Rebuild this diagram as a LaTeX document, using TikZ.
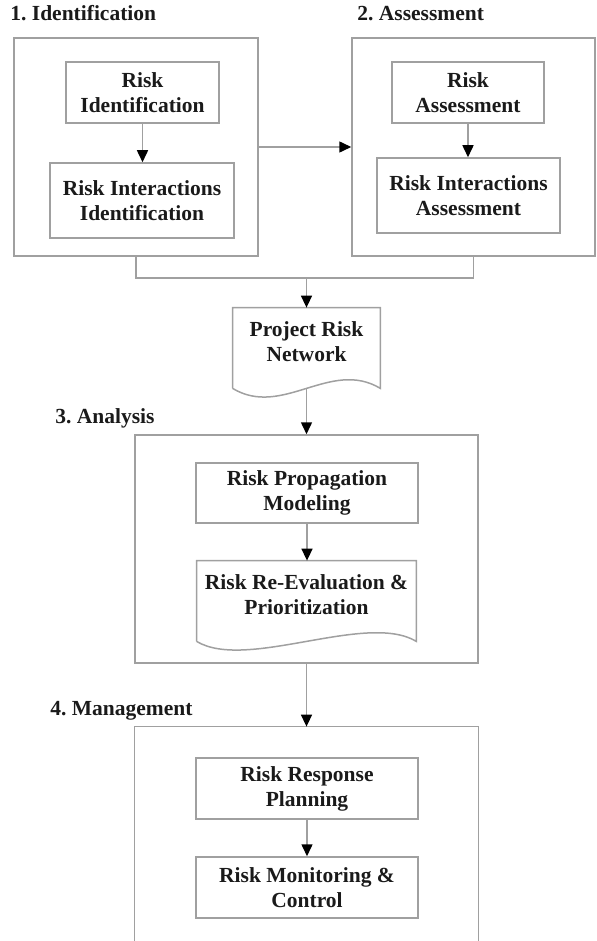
\documentclass[tikz,border=0pt]{standalone}
\usepackage{fontspec}
\setmainfont{Liberation Serif}
\usetikzlibrary{arrows.meta}

\definecolor{linegray}{HTML}{A0A0A0}
\definecolor{inkblack}{HTML}{1A1A1A}

\tikzset{
  frame/.style={draw=linegray, line width=0.75pt},
  txt/.style={text=inkblack, font=\bfseries\fontsize{10.75}{12.5}\selectfont\frenchspacing},
  stepbox/.style={frame, txt, align=center, inner sep=0pt},
  docbox/.style={txt, align=center, inner sep=0pt},
  stagebox/.style={frame, inner sep=0pt},
  link/.style={draw=linegray, line width=0.75pt},
  flow/.style={link, -{Triangle[length=6pt,width=5.5pt,color=black,fill=black]}}
}

% document outline with a wavy bottom
\newcommand{\docoutline}[1]{%
  \draw[frame] ([yshift=-6pt]#1.south west) -- (#1.north west)
    -- (#1.north east) -- ([yshift=-6pt]#1.south east)
    .. controls +(-50,-30) and +(50,30) .. ([yshift=-6pt]#1.south west);}

\begin{document}
\begin{tikzpicture}[x=0.5pt,y=-0.5pt]
  \useasboundingbox (0,0) rectangle (596,941);

  % stage titles
  \foreach \x/\y/\n/\t in {10/21/t1/1. Identification, 357/21/t2/2. Assessment,
                           55/423/t3/3. Analysis, 50/715/t4/4. Management}
    {\node[txt, anchor=base west, inner sep=0pt] (\n) at (\x,\y) {\t};}

  % stage frames
  \node[stagebox, minimum width=122pt, minimum height=109pt] (ident) at (136,147) {};
  \node[stagebox, minimum width=121.5pt, minimum height=109pt] (assess) at (473.5,147) {};
  \node[stagebox, minimum width=171.5pt, minimum height=114pt] (analys) at (306.5,549) {};
  \node[inner sep=0pt, minimum width=171.5pt, minimum height=107pt] (manage) at (306.5,834) {};
  \draw[frame] (manage.south west) -- (manage.north west)
    -- (manage.north east) -- (manage.south east);

  % 1. identification
  \node[stepbox, minimum width=76.5pt, minimum height=30.5pt] (riskid) at (142.5,92.5)
    {Risk\\Identification};
  \node[stepbox, minimum width=92pt, minimum height=37.5pt] (interid) at (142,200.5)
    {Risk Interactions\\Identification};
  \draw[flow] (riskid.south) -- (riskid.south |- interid.north);

  % 2. assessment
  \node[stepbox, minimum width=76pt, minimum height=30.5pt] (riskas) at (468,92.5)
    {Risk\\Assessment};
  \node[stepbox, minimum width=91.5pt, minimum height=37.5pt] (interas) at (468.5,195.5)
    {Risk Interactions\\Assessment};
  \draw[flow] (riskas.south) -- (riskas.south |- interas.north);
  \draw[flow] (ident.east) -- (assess.west);

  % project risk network
  \node[docbox, minimum width=73.5pt, minimum height=34pt] (network) at (306.5,342)
    {Project Risk\\Network};
  \docoutline{network}
  \coordinate (bus) at (0,278);
  \draw[link] (ident.south) -- (ident.south |- bus) -- (assess.south |- bus)
    -- (assess.south);
  \draw[flow] (network.north |- bus) -- (network.north);
  \draw[flow] ([yshift=-6pt]network.south) -- (analys.north);

  % 3. analysis
  \node[stepbox, minimum width=111pt, minimum height=30pt] (propag) at (307,493)
    {Risk Propagation\\Modeling};
  \node[docbox, minimum width=109.5pt, minimum height=34pt] (reeval) at (306.5,595)
    {Risk Re-Evaluation \&\\Prioritization};
  \docoutline{reeval}
  \draw[flow] (propag.south) -- (propag.south |- reeval.north);
  \draw[flow] (analys.south) -- (manage.north);

  % 4. management
  \node[stepbox, minimum width=111pt, minimum height=30.5pt] (respon) at (307,788.5)
    {Risk Response\\Planning};
  \node[stepbox, minimum width=111pt, minimum height=30.5pt] (monit) at (307,887.5)
    {Risk Monitoring \&\\Control};
  \draw[flow] (respon.south) -- (monit.north);
\end{tikzpicture}
\end{document}
